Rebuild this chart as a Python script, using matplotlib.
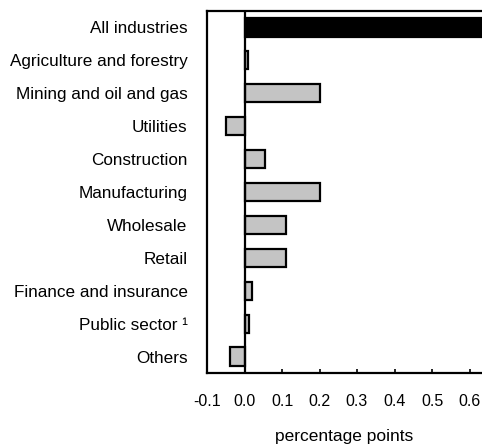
"""Contribution to growth by industry, horizontal bar chart."""
import matplotlib
matplotlib.use("Agg")
import matplotlib.pyplot as plt

plt.rcParams["font.family"] = ["Liberation Sans", "DejaVu Sans"]

industries = [
    "All industries",
    "Agriculture and forestry",
    "Mining and oil and gas",
    "Utilities",
    "Construction",
    "Manufacturing",
    "Wholesale",
    "Retail",
    "Finance and insurance",
    "Public sector \u00b9",
    "Others",
]
contribution = [0.70, 0.01, 0.20, -0.05, 0.055, 0.20, 0.11, 0.11, 0.02, 0.012, -0.04]
tick_values = [-0.1, 0.0, 0.1, 0.2, 0.3, 0.4, 0.5, 0.6]
tick_labels = ["-0.1", "0.0", "0.1", "0.2", "0.3", "0.4", "0.5", "0.6"]

fig = plt.figure(figsize=(4.82, 4.47), dpi=100)
# axes runs past the right edge of the figure, like the cropped original
ax = fig.add_axes([207 / 482, 1 - 373 / 447, 300 / 482, 362 / 447])

ypos = list(range(len(industries)))
colors = ["black"] + ["#c4c4c4"] * (len(industries) - 1)
ax.barh(ypos, contribution, height=0.55, color=colors,
        edgecolor="black", linewidth=1.6)

ax.axvline(0, color="black", linewidth=1.6)
ax.set_xlim(-0.1, 0.7)
ax.set_ylim(len(industries) - 0.5, -0.5)

ax.set_yticks(ypos)
ax.set_yticklabels(industries, fontsize=12.3)
ax.tick_params(axis="y", length=0, pad=14)

ax.set_xticks(tick_values)
ax.set_xticklabels(tick_labels, fontsize=11.5)
ax.tick_params(axis="x", direction="in", length=3, width=1.2, pad=15)

for side in ("left", "top", "bottom"):
    ax.spines[side].set_linewidth(1.6)
ax.spines["right"].set_visible(False)

fig.text(344 / 482, 1 - 437 / 447, "percentage points", fontsize=12.5,
         ha="center", va="center")

fig.savefig("out.png", dpi=100)
